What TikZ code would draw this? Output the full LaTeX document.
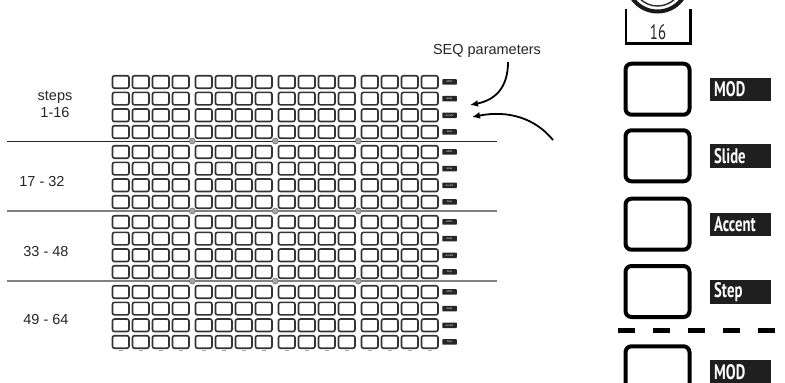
\documentclass[tikz,border=0pt]{standalone}
\usepackage{fontspec}
\setmainfont{Liberation Sans}
\newfontfamily\condfont[FakeStretch=0.7]{PT Sans}
\usetikzlibrary{arrows.meta}
\begin{document}
\begin{tikzpicture}[x=1pt,y=-1pt,
  key/.style={draw=black!80, line width=1.6pt, rounded corners=2pt},
  tag/.style={fill=black!85, rounded corners=0.6pt, inner sep=0pt, minimum width=14.5pt, minimum height=5.5pt, text=white, font=\fontsize{2.5}{3}\selectfont},
  firstsep/.style={draw=black!85, line width=1pt},
  sep/.style={draw=black!50, line width=1.6pt},
  dot/.style={circle, fill=black!35, draw=black!55, line width=0.6pt, minimum size=6pt, inner sep=0pt},
  foot/.style={draw=black!35, line width=1pt},
  pad/.style={draw=black, line width=4pt, rounded corners=6pt},
  padtag/.style={text=white, anchor=north west, minimum height=20pt, inner xsep=4pt, inner ysep=0pt, text width=52.7pt, align=left, font=\condfont\bfseries\fontsize{21}{21}\selectfont},
  rangelabel/.style={font=\fontsize{14.5}{17}\selectfont, text=black!85},
  callout/.style={line width=1.8pt, -{Latex[length=8pt,width=7pt]}},
]
\fill[white] (0,0) rectangle (785,383);
\useasboundingbox (0,0) rectangle (785,383);

% step grid
\foreach \g in {0,...,3} {
  \foreach \c in {0,...,3} {
    \foreach \rg in {0,...,3} {
      \foreach \r in {0,...,3} {
        \pgfmathsetmacro\xx{112.5+83*\g+20*\c}
        \pgfmathsetmacro\yy{75.7+70*\rg+16.67*\r}
        \draw[key] (\xx,\yy) rectangle ++(16.5,12.5);
      }
    }
    \pgfmathsetmacro\fx{112.5+83*\g+20*\c+6.25}
    \draw[foot] (\fx,350) -- ++(4,0);
  }
}

% row tags
\foreach \rg in {0,...,3} {
  \foreach \r/\lab in {0/MOD,1/Slide,2/Accent,3/Step} {
    \pgfmathsetmacro\ty{75.7+70*\rg+16.67*\r+6.25}
    \node[tag] (tag-\rg-\r) at (449.5,\ty) {\lab};
  }
}

% separators
\draw[firstsep] (7,141) -- (497,141);
\draw[sep] (7,211) -- (497,211);
\draw[sep] (7,281) -- (497,281);
\foreach \y [count=\j] in {141,211,281} {
  \foreach \x [count=\i] in {192.3,275.3,358.3} {
    \node[dot] (dot-\j-\i) at (\x,\y) {};
  }
}

% range labels
\node[rangelabel, align=center] (r1) at (55,104) {steps\\1-16};
\node[rangelabel] (r2) at (42,181.5) {17 - 32};
\node[rangelabel] (r3) at (46,251.5) {33 - 48};
\node[rangelabel] (r4) at (46,320) {49 - 64};

% callouts
\node[font=\fontsize{14.5}{17}\selectfont, text=black!85] (seq) at (487,51) {SEQ parameters};
\coordinate (a1s) at (508,62);
\coordinate (a1e) at (470,105);
\coordinate (a2s) at (553,140);
\coordinate (a2e) at (472,117);
\draw[callout] (a1s) .. controls (508,88) and (495,100) .. (a1e);
\draw[callout] (a2s) .. controls (535,118) and (508,110) .. (a2e);

% right panel
\begin{scope}
  \clip (0,0) rectangle (785,383);
  \draw[line width=4pt, black!90] (657.5,-19) circle (30.5);
  \draw[line width=1.5pt, black!80] (657.5,-19) circle (25);
  \draw[line width=2.3pt] (626,9) -- (626,43.5) -- (690.5,43.5) -- (690.5,9);
  \node[font=\condfont\fontsize{21}{21}\selectfont, text=black!85] (knob16) at (658,32) {16};
  \foreach \t/\lab [count=\i] in {61.7/MOD, 128.3/Slide, 196.7/Accent, 264/Step, 344.3/MOD} {
    \draw[pad] (625.5,\t+2) rectangle ++(64,51);
    \fill[black!88] (710,\t+16) rectangle ++(60.7,23.5);
    \node[padtag] (padtag-\i) at (710,\t+17.5) {\lab};
  }
  \draw[line width=5pt, dash pattern=on 17pt off 18pt] (618,330) -- (785,330);
\end{scope}
\end{tikzpicture}
\end{document}
